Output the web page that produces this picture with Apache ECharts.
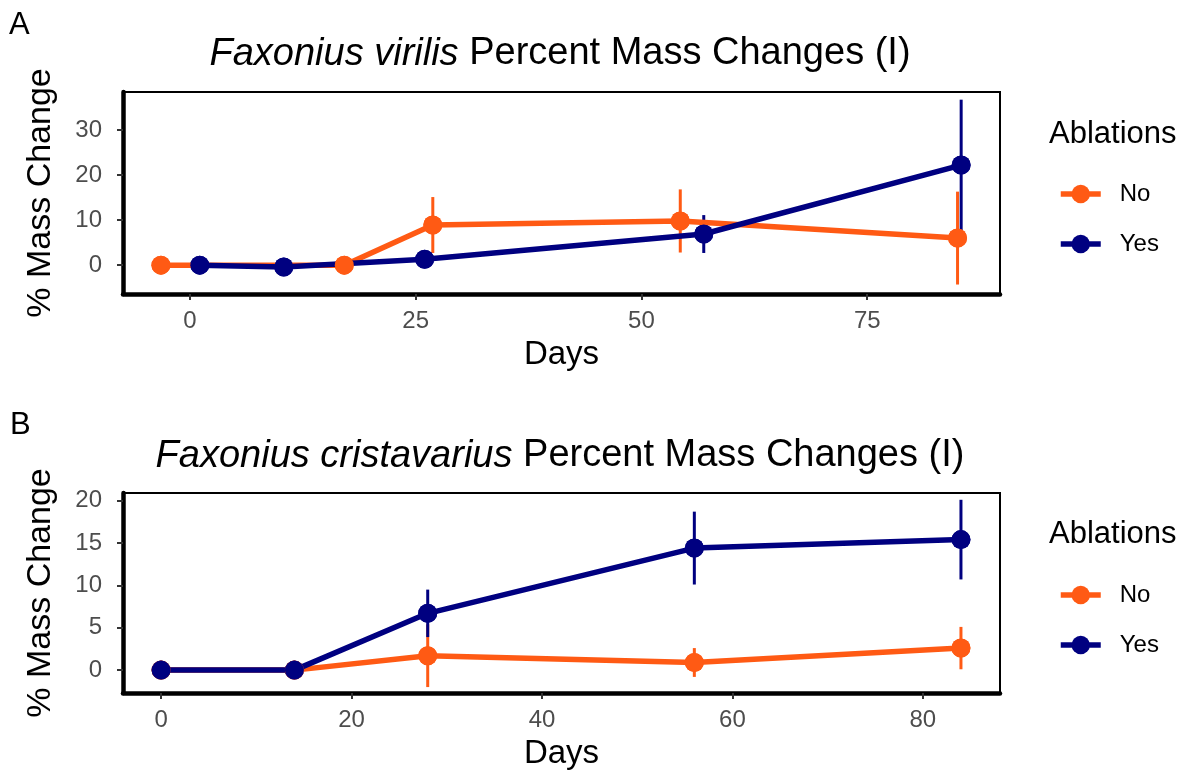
<!DOCTYPE html>
<html>
<head>
<meta charset="utf-8">
<script src="https://cdn.jsdelivr.net/npm/echarts@6/dist/echarts.min.js"></script>
<style>
html, body { margin: 0; padding: 0; background: #fff; }
#chart_box { width: 1185px; height: 775px; }
</style>
</head>
<body>
<div id="chart_box"></div>
<script>
// panel A - Faxonius virilis (dodged x positions as plotted)
const daysA_no = [-3.2, 17.1, 26.9, 54.3, 85.0];
const massA_no = [0, 0, 8.9, 9.8, 6.0];
const errA_no = [0, 0, 6.2, 7.0, 10.3];
const daysA_yes = [1.1, 10.4, 26.0, 56.9, 85.4];
const massA_yes = [0, -0.4, 1.3, 6.9, 22.2];
const errA_yes = [0, 0, 0, 4.2, 14.5];

// panel B - Faxonius cristavarius
const daysB = [0, 14, 28, 56, 84];
const massB_no = [0, 0, 1.7, 0.9, 2.6];
const errB_no = [0, 0, 3.7, 1.7, 2.5];
const massB_yes = [0, 0, 6.7, 14.4, 15.4];
const errB_yes = [0, 0, 2.8, 4.3, 4.7];

// tick labels
const ticksXA = [0, 25, 50, 75];
const ticksYA = [0, 10, 20, 30];
const ticksXB = [0, 20, 40, 60, 80];
const ticksYB = [0, 5, 10, 15, 20];

const ORANGE = '#ff5a14';
const NAVY = '#000080';
const FONT = 'Liberation Sans';

const pts = (xs, ys) => xs.map((x, i) => [x, ys[i]]);
const bars = (xs, ys, es) => xs.map((x, i) => [x, ys[i] - es[i], ys[i] + es[i]]);

function errRender(params, api) {
  const x = api.value(0), lo = api.value(1), hi = api.value(2);
  if (hi - lo <= 0) return;
  const p1 = api.coord([x, lo]);
  const p2 = api.coord([x, hi]);
  return {
    type: 'line',
    shape: { x1: p1[0], y1: p1[1], x2: p2[0], y2: p2[1] },
    style: { stroke: api.visual('color'), lineWidth: 3 }
  };
}

function xAxisOf(idx, min, max, ticks) {
  return {
    type: 'value', gridIndex: idx, min: min, max: max,
    name: 'Days', nameLocation: 'middle', nameGap: 44,
    nameTextStyle: { fontSize: 33, color: '#000', fontFamily: FONT },
    axisLine: { onZero: false, lineStyle: { color: '#000', width: 4.5 } },
    axisTick: { customValues: ticks, length: 6, lineStyle: { color: '#333', width: 2 } },
    axisLabel: { customValues: ticks, margin: 15, fontSize: 24, color: '#4d4d4d', fontFamily: FONT },
    splitLine: { show: false }
  };
}
function yAxisOf(idx, min, max, ticks) {
  return {
    type: 'value', gridIndex: idx, min: min, max: max,
    name: '% Mass Change', nameLocation: 'middle', nameGap: 65,
    nameTextStyle: { fontSize: 34, color: '#000', fontFamily: FONT },
    axisLine: { onZero: false, lineStyle: { color: '#000', width: 4.5 } },
    axisTick: { customValues: ticks, length: 6, lineStyle: { color: '#333', width: 2 } },
    axisLabel: { customValues: ticks, margin: 21, fontSize: 24, color: '#4d4d4d', fontFamily: FONT },
    splitLine: { show: false }
  };
}

function panelSeries(idx, xsNo, yNo, eNo, xsYes, yYes, eYes) {
  const lineOf = (name, color, data) => ({
    name: name, type: 'line', xAxisIndex: idx, yAxisIndex: idx, data: data,
    symbol: 'circle', symbolSize: 19, color: color,
    lineStyle: { width: 5.5, color: color }, itemStyle: { color: color }
  });
  const errOf = (color, data) => ({
    type: 'custom', xAxisIndex: idx, yAxisIndex: idx, data: data,
    renderItem: errRender, itemStyle: { color: color }
  });
  const dotOf = (color, data) => ({
    type: 'scatter', xAxisIndex: idx, yAxisIndex: idx, data: data,
    symbol: 'circle', symbolSize: 19, itemStyle: { color: color, opacity: 1 }
  });
  return [
    lineOf('No', ORANGE, pts(xsNo, yNo)),
    lineOf('Yes', NAVY, pts(xsYes, yYes)),
    errOf(ORANGE, bars(xsNo, yNo, eNo)),
    errOf(NAVY, bars(xsYes, yYes, eYes)),
    dotOf(ORANGE, pts(xsNo, yNo)),
    dotOf(NAVY, pts(xsYes, yYes))
  ];
}

const titleStyle = {
  fontSize: 38, fontWeight: 'normal', color: '#000', fontFamily: FONT,
  rich: { i: { fontStyle: 'italic', fontSize: 38, color: '#000', fontFamily: FONT } }
};

const legendOf = (top) => ({
  orient: 'vertical', left: 1053, top: top,
  data: ['No', 'Yes'], itemWidth: 40, itemHeight: 23, itemGap: 26,
  selectedMode: false,
  lineStyle: { width: 5.5 },
  textStyle: { fontSize: 24, color: '#000', fontFamily: FONT, padding: [0, 0, 0, 14] }
});

let myChart = echarts.init(document.getElementById('chart_box'));
myChart.setOption({
  animation: false,
  textStyle: { fontFamily: FONT },
  title: [
    { text: '{i|Faxonius virilis} Percent Mass Changes (I)', left: 560, top: 35, padding: 0, textAlign: 'center', textStyle: titleStyle },
    { text: '{i|Faxonius cristavarius} Percent Mass Changes (I)', left: 560, top: 437, padding: 0, textAlign: 'center', textStyle: titleStyle }
  ],
  graphic: [
    { type: 'text', x: 9, y: 25, style: { text: 'A', font: '31px "Liberation Sans"', fill: '#000', verticalAlign: 'middle' } },
    { type: 'text', x: 10, y: 425, style: { text: 'B', font: '31px "Liberation Sans"', fill: '#000', verticalAlign: 'middle' } },
    { type: 'text', x: 1049, y: 134, style: { text: 'Ablations', font: '31px "Liberation Sans"', fill: '#000', verticalAlign: 'middle' } },
    { type: 'text', x: 1049, y: 534, style: { text: 'Ablations', font: '31px "Liberation Sans"', fill: '#000', verticalAlign: 'middle' } }
  ],
  legend: [legendOf(177), legendOf(578)],
  grid: [
    { left: 123, top: 92, width: 877, height: 202, show: true, borderColor: '#000', borderWidth: 2 },
    { left: 123, top: 493, width: 877, height: 200, show: true, borderColor: '#000', borderWidth: 2 }
  ],
  xAxis: [xAxisOf(0, -7.4, 89.7, ticksXA), xAxisOf(1, -4.0, 88.1, ticksXB)],
  yAxis: [yAxisOf(0, -6.4, 38.4, ticksYA), yAxisOf(1, -2.7, 20.9, ticksYB)],
  series: [].concat(
    panelSeries(0, daysA_no, massA_no, errA_no, daysA_yes, massA_yes, errA_yes),
    panelSeries(1, daysB, massB_no, errB_no, daysB, massB_yes, errB_yes)
  )
});
</script>
</body>
</html>
